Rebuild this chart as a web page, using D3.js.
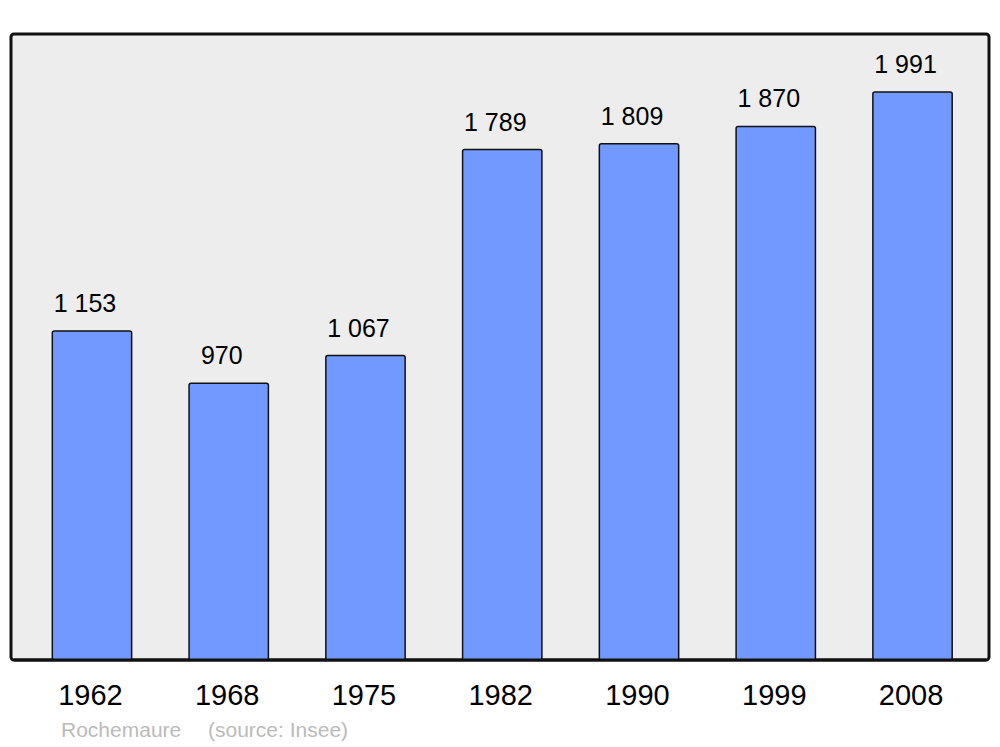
<!DOCTYPE html>
<html>
<head>
<meta charset="utf-8">
<script src="https://cdn.jsdelivr.net/npm/d3@7"></script>
<style>
  body { margin: 0; background: #fff; }
  text { font-family: "Liberation Sans", Arial, sans-serif; }
</style>
</head>
<body>
<div id="wrapper"></div>
<script>
const years = ["1962", "1968", "1975", "1982", "1990", "1999", "2008"]
const population = [1153, 970, 1067, 1789, 1809, 1870, 1991]
const valueLabels = ["1 153", "970", "1 067", "1 789", "1 809", "1 870", "1 991"]
const town = "Rochemaure"
const source = "(source: Insee)"

const data = years.map((y, i) => ({ year: y, value: population[i], label: valueLabels[i] }))

let dms = {
  width: 1000,
  height: 747,
  panel: { left: 11, top: 34, right: 989, bottom: 660 },
}

const wrapper = d3.select("#wrapper")
  .append("svg")
  .attr("width", dms.width)
  .attr("height", dms.height)

wrapper.append("rect")
  .attr("x", dms.panel.left)
  .attr("y", dms.panel.top)
  .attr("width", dms.panel.right - dms.panel.left)
  .attr("height", dms.panel.bottom - dms.panel.top)
  .attr("rx", 3)
  .attr("fill", "#ededed")
  .attr("stroke", "#111")
  .attr("stroke-width", 3)

const xScale = d3.scaleBand()
  .domain(years)
  .range([23.6, 980.9])
  .paddingInner(0.42)
  .paddingOuter(0.21)

const yScale = d3.scaleLinear()
  .domain([0, 2194])
  .range([dms.panel.bottom, dms.panel.top])

const bars = wrapper.append("g")

bars.selectAll("rect")
  .data(data)
  .join("rect")
  .attr("x", d => xScale(d.year))
  .attr("y", d => yScale(d.value))
  .attr("width", xScale.bandwidth())
  .attr("height", d => yScale(0) - yScale(d.value))
  .attr("rx", 2)
  .attr("fill", "#7299ff")
  .attr("stroke", "#111")
  .attr("stroke-width", 1.5)

bars.selectAll("text")
  .data(data)
  .join("text")
  .attr("x", d => xScale(d.year) + xScale.bandwidth() / 2 - 7)
  .attr("y", d => yScale(d.value) - 19)
  .attr("text-anchor", "middle")
  .attr("font-size", 25)
  .attr("fill", "#000")
  .text(d => d.label)

// redraw panel bottom border over bar bottoms
wrapper.append("line")
  .attr("x1", dms.panel.left + 3)
  .attr("x2", dms.panel.right - 3)
  .attr("y1", dms.panel.bottom)
  .attr("y2", dms.panel.bottom)
  .attr("stroke", "#111")
  .attr("stroke-width", 3)

const xAxis = wrapper.append("g")
xAxis.selectAll("text")
  .data(years)
  .join("text")
  .attr("x", d => xScale(d) + xScale.bandwidth() / 2 - 1.5)
  .attr("y", 705)
  .attr("text-anchor", "middle")
  .attr("font-size", 29)
  .attr("fill", "#000")
  .text(d => d)

wrapper.append("text")
  .attr("x", 61)
  .attr("y", 737)
  .attr("font-size", 21)
  .attr("fill", "#bbb")
  .text(town)

wrapper.append("text")
  .attr("x", 208)
  .attr("y", 737)
  .attr("font-size", 21)
  .attr("fill", "#bbb")
  .text(source)
</script>
</body>
</html>
